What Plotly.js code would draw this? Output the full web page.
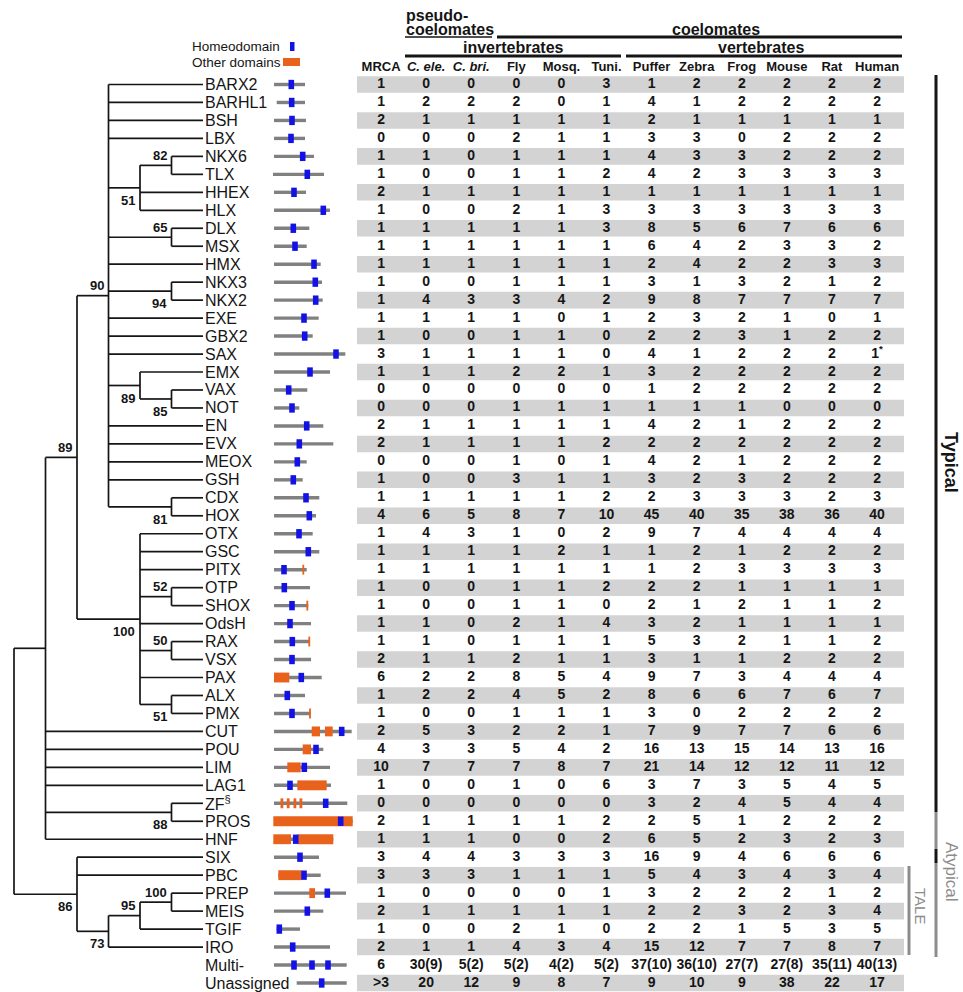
<!DOCTYPE html>
<html><head><meta charset="utf-8">
<script src="https://cdn.plot.ly/plotly-3.0.1.min.js"></script>
<style>html,body{margin:0;padding:0;background:#fff}</style>
</head><body>
<div id="chart" style="width:963px;height:992px"></div>
<script>
// ---------------- DATA ----------------
const rows = ["BARX2","BARHL1","BSH","LBX","NKX6","TLX","HHEX","HLX","DLX","MSX","HMX","NKX3","NKX2","EXE","GBX2","SAX","EMX","VAX","NOT","EN","EVX","MEOX","GSH","CDX","HOX","OTX","GSC","PITX","OTP","SHOX","OdsH","RAX","VSX","PAX","ALX","PMX","CUT","POU","LIM","LAG1","ZF","PROS","HNF","SIX","PBC","PREP","MEIS","TGIF","IRO","Multi-","Unassigned"];
const rowLabels = rows.map(r => r === "ZF" ? "ZF<sup>§</sup>" : r);

const species = ["MRCA","C. ele.","C. bri.","Fly","Mosq.","Tuni.","Puffer","Zebra","Frog","Mouse","Rat","Human"];
const speciesLabels = ["MRCA","<i>C. ele.</i>","<i>C. bri.</i>","Fly","Mosq.","Tuni.","Puffer","Zebra","Frog","Mouse","Rat","Human"];

const mrca   = ["1","1","2","0","1","1","2","1","1","1","1","1","1","1","1","3","1","0","0","2","2","0","1","1","4","1","1","1","1","1","1","1","2","6","1","1","2","4","10","1","0","2","1","3","3","1","2","1","2","6",">3"];
const cEle   = ["0","2","1","0","1","0","1","0","1","1","1","0","4","1","0","1","1","0","0","1","1","0","0","1","6","4","1","1","0","0","1","1","1","2","2","0","5","3","7","0","0","1","1","4","3","0","1","0","1","30(9)","20"];
const cBri   = ["0","2","1","0","0","0","1","0","1","1","1","0","3","1","0","1","1","0","0","1","1","0","0","1","5","3","1","1","0","0","0","0","1","2","2","0","3","3","7","0","0","1","1","4","3","0","1","0","1","5(2)","12"];
const fly    = ["0","2","1","2","1","1","1","2","1","1","1","1","3","1","1","1","2","0","1","1","1","1","3","1","8","1","1","1","1","1","2","1","2","8","4","1","2","5","7","1","0","1","0","3","1","0","1","2","4","5(2)","9"];
const mosq   = ["0","0","1","1","1","1","1","1","1","1","1","1","4","0","1","1","2","0","1","1","1","0","1","1","7","0","2","1","1","1","1","1","1","5","5","1","2","4","8","0","0","1","0","3","1","0","1","1","3","4(2)","8"];
const tuni   = ["3","1","1","1","1","2","1","3","3","1","1","1","2","1","0","0","1","0","1","1","2","1","1","2","10","2","1","1","2","0","4","1","1","4","2","1","1","2","7","6","0","2","2","3","1","1","1","0","4","5(2)","7"];
const puffer = ["1","4","2","3","4","4","1","3","8","6","2","3","9","2","2","4","3","1","1","4","2","4","3","2","45","9","1","1","2","2","3","5","3","9","8","3","7","16","21","3","3","2","6","16","5","3","2","2","15","37(10)","9"];
const zebra  = ["2","1","1","3","3","2","1","3","5","4","4","1","8","3","2","1","2","2","1","2","2","2","2","3","40","7","2","2","2","1","2","3","1","7","6","0","9","13","14","7","2","5","5","9","4","2","2","2","12","36(10)","10"];
const frog   = ["2","2","1","0","3","3","1","3","6","2","2","3","7","2","3","2","2","2","1","1","2","1","3","3","35","4","1","3","1","2","1","2","1","3","6","2","7","15","12","3","4","1","2","4","3","2","3","1","7","27(7)","9"];
const mouse  = ["2","2","1","2","2","3","1","3","7","3","2","2","7","1","1","2","2","2","0","2","2","2","2","3","38","4","2","3","1","1","1","1","2","4","7","2","7","14","12","5","5","2","3","6","4","2","2","5","7","27(8)","38"];
const rat    = ["2","2","1","2","2","3","1","3","6","3","3","1","7","0","2","2","2","2","0","2","2","2","2","2","36","4","2","3","1","1","1","1","2","4","6","2","6","13","11","4","4","2","2","6","3","1","3","3","8","35(11)","22"];
const human  = ["2","2","1","2","2","3","1","3","6","2","3","2","7","1","2","1<sup>*</sup>","2","2","0","2","2","2","2","3","40","4","2","3","1","2","1","2","2","4","7","2","6","16","12","5","4","2","3","6","4","2","4","5","7","40(13)","17"];
const counts = [mrca,cEle,cBri,fly,mosq,tuni,puffer,zebra,frog,mouse,rat,human];

// phylogeny: lv = depth column of the node, bs = bootstrap support, pos = label above (a) / below (b)
const tree = {lv:0, c:[
  {lv:1, c:[
    {lv:2, bs:"89", pos:"a", c:[
      {lv:3, bs:"90", pos:"a", c:["BARX2","BARHL1","BSH","LBX",
        {lv:4, bs:"51", pos:"b", c:[{lv:5, bs:"82", pos:"a", c:["NKX6","TLX"]},"HHEX","HLX"]},
        {lv:5, bs:"65", pos:"a", c:["DLX","MSX"]},
        "HMX",
        {lv:5, bs:"94", pos:"b", c:["NKX3","NKX2"]},
        "EXE","GBX2","SAX",
        {lv:4, bs:"89", pos:"b", c:["EMX",{lv:5, bs:"85", pos:"b", c:["VAX","NOT"]}]},
        "EN","EVX","MEOX","GSH",
        {lv:5, bs:"81", pos:"b", c:["CDX","HOX"]}]},
      {lv:4, bs:"100", pos:"b", c:["OTX","GSC","PITX",
        {lv:5, bs:"52", pos:"a", c:["OTP","SHOX"]},
        "OdsH",
        {lv:5, bs:"50", pos:"a", c:["RAX","VSX"]},
        "PAX",
        {lv:5, bs:"51", pos:"b", c:["ALX","PMX"]}]}
    ]},
    "CUT","POU","LIM","LAG1",
    {lv:5, bs:"88", pos:"b", c:["ZF","PROS"]},
    "HNF"]},
  {lv:2, bs:"86", pos:"b", c:["SIX","PBC",
    {lv:3, bs:"73", pos:"b", c:[
      {lv:4, bs:"95", pos:"a", c:[{lv:5, bs:"100", pos:"a", c:["PREP","MEIS"]},"TGIF"]},
      "IRO"]}]}
]};
const leafLevel = 6;

// protein domain architecture (relative units): p = protein extent, hd = homeodomain centres,
// od = other domains, tk = short other-domain motifs
const domains = [
  {p:[0,31],hd:[17.3]},{p:[2.7,31],hd:[17.7]},{p:[0,32],hd:[18]},{p:[0,31],hd:[17]},
  {p:[0,40],hd:[28.7]},{p:[-1,50],hd:[33.3]},{p:[0,32],hd:[20]},{p:[0,56],hd:[49.3]},
  {p:[0,35.3],hd:[19.3]},{p:[0,32.7],hd:[21]},{p:[0,46.7],hd:[40]},{p:[0,48],hd:[41.3]},
  {p:[0,48.7],hd:[41.7]},{p:[0,44.7],hd:[30]},{p:[0,38.7],hd:[30.7]},{p:[0,71.3],hd:[62]},
  {p:[0,56],hd:[36]},{p:[0,33.3],hd:[14.7]},{p:[0,25.3],hd:[18]},{p:[0,49.3],hd:[32.7]},
  {p:[0,59.3],hd:[25.3]},{p:[0,32.7],hd:[23.3]},{p:[0,28.7],hd:[19.3]},{p:[0,45.3],hd:[32]},
  {p:[0,42],hd:[35.3]},{p:[0,38.7],hd:[25]},{p:[0,45.3],hd:[34.3]},{p:[0,32.7],hd:[10],tk:[29.3]},
  {p:[0,36],hd:[10.3]},{p:[0,34.3],hd:[18],tk:[33.3]},{p:[0,37],hd:[16]},{p:[0,36],hd:[18.3],tk:[35.3]},
  {p:[0,37],hd:[18]},{p:[0,47.7],hd:[27.3],od:[[0,15.3]]},{p:[0,31],hd:[13.3]},{p:[0,36.7],hd:[18],tk:[36]},
  {p:[0,77.7],hd:[67.7],od:[[37.7,46],[51,58.7]]},{p:[0,49.3],hd:[42],od:[[28.7,37]]},
  {p:[0,56],hd:[30.3],od:[[13.3,26.7]]},{p:[0,57],hd:[16],od:[[23.3,52.7]]},
  {p:[0,73.3],hd:[51.7],od:[[6.5,9.3],[12.8,15.6],[19.5,22.3],[25.5,28.3]]},
  {p:[0,78.7],hd:[66.7],od:[[-0.7,78.7]]},{p:[0,59.3],hd:[21.7],od:[[-0.7,17],[23.5,59.3]]},
  {p:[0,45],hd:[26]},{p:[4.3,46.7],hd:[30],od:[[4.3,27.7]]},{p:[0,72],hd:[53.3],od:[[35.3,41]]},
  {p:[0,49.3],hd:[33.3]},{p:[2.7,26],hd:[5.3]},{p:[0,56],hd:[18.7]},
  {p:[0,72.7],hd:[20,38,54]},{p:[22.7,72.7],hd:[47.7]}
];

// ---------------- BUILD ----------------
const FONT = "Arial, 'Liberation Sans', Helvetica, sans-serif";
const INK = "#151515";
const px = v => v / 963, py = v => 1 - v / 992;

// tree geometry from structure
const lx = [], ly = [], ann = [];
function walk(n){
  if (typeof n === "string") return {x: leafLevel, y: rows.indexOf(n)};
  const kids = n.c.map(walk);
  const y0 = kids[0].y, y1 = kids[kids.length-1].y;
  lx.push(n.lv, n.lv, null); ly.push(y0, y1, null);
  kids.forEach(k => { lx.push(n.lv, k.x, null); ly.push(k.y, k.y, null); });
  const y = (y0 + y1) / 2;
  if (n.bs) ann.push({x: n.lv, y: y, xref: "x", yref: "y", text: "<b>" + n.bs + "</b>",
    showarrow: false, xanchor: "right", yanchor: "middle", xshift: -3,
    yshift: n.pos === "a" ? 10 : -12.5, font: {family: FONT, size: 13, color: INK}});
  return {x: n.lv, y: y};
}
walk(tree);

// leaf / row labels
rowLabels.forEach((t, i) => ann.push({x: leafLevel, y: i, xref: "x", yref: "y", text: t,
  showarrow: false, xanchor: "left", yanchor: "middle", xshift: 0,
  font: {family: FONT, size: 16, color: INK}}));

const traces = [];
traces.push({type: "scatter", mode: "lines", x: lx, y: ly, xaxis: "x", yaxis: "y",
  line: {color: INK, width: 1.7}, hoverinfo: "skip", showlegend: false});

// domain bars
function barTrace(base, len, ys, w, color){
  return {type: "bar", orientation: "h", base: base, x: len, y: ys, width: w,
    xaxis: "x2", yaxis: "y", marker: {color: color, line: {width: 0}},
    hoverinfo: "skip", showlegend: false};
}
const gB=[],gL=[],gY=[], oB=[],oL=[],oY=[], tB=[],tL=[],tY=[], hB=[],hL=[],hY=[];
domains.forEach((d, i) => {
  gB.push(d.p[0]); gL.push(d.p[1]-d.p[0]); gY.push(i);
  (d.od||[]).forEach(o => { oB.push(o[0]); oL.push(o[1]-o[0]); oY.push(i); });
  (d.tk||[]).forEach(t => { tB.push(t-0.9); tL.push(1.8); tY.push(i); });
  d.hd.forEach(h => { hB.push(h-2.8); hL.push(5.6); hY.push(i); });
});
traces.push(barTrace(gB, gL, gY, 0.19, "#808080"));
traces.push(barTrace(oB, oL, oY, 0.55, "#e8621c"));
traces.push(barTrace(tB, tL, tY, 0.55, "#e8621c"));
traces.push(barTrace(hB, hL, hY, 0.52, "#1212e6"));

// table values
const tx = [], ty = [], tt = [];
counts.forEach((col, j) => col.forEach((v, i) => { tx.push(species[j]); ty.push(i); tt.push("<b>" + v + "</b>"); }));
traces.push({type: "scatter", mode: "text", x: tx, y: ty, text: tt, xaxis: "x3", yaxis: "y",
  textposition: "middle center", textfont: {family: FONT, size: 14, color: INK},
  hoverinfo: "skip", showlegend: false, cliponaxis: false});
// column headers
traces.push({type: "scatter", mode: "text", x: species, y: species.map(() => -0.918),
  text: speciesLabels.map(s => "<b>" + s + "</b>"), xaxis: "x3", yaxis: "y",
  textposition: "middle center", textfont: {family: FONT, size: 13, color: INK},
  hoverinfo: "skip", showlegend: false, cliponaxis: false});

// shapes: grey stripes, header rules, legend, side brackets
const shapes = [];
rows.forEach((r, i) => { if (i % 2 === 0) shapes.push({type: "rect", xref: "paper", yref: "y",
  x0: px(357), x1: px(904), y0: i - 0.46, y1: i + 0.46, fillcolor: "#d3d3d3", line: {width: 0}, layer: "below"}); });
function hline(x0, x1, y, w, c){ shapes.push({type: "line", xref: "paper", yref: "paper",
  x0: px(x0), x1: px(x1), y0: py(y), y1: py(y), line: {color: c || INK, width: w}}); }
function vline(x, y0, y1, w, c){ shapes.push({type: "line", xref: "paper", yref: "paper",
  x0: px(x), x1: px(x), y0: py(y0), y1: py(y1), line: {color: c || INK, width: w}}); }
function rect(x0, x1, y0, y1, c){ shapes.push({type: "rect", xref: "paper", yref: "paper",
  x0: px(x0), x1: px(x1), y0: py(y0), y1: py(y1), fillcolor: c, line: {width: 0}}); }
hline(405, 492, 37, 1.6);
hline(497, 902, 37, 3);
hline(405, 621, 56, 3);
hline(626, 902, 56, 3);
rect(290, 294.5, 42, 51, "#1212e6");
rect(283, 300, 58, 66, "#e8621c");
const GREY = "#8c8c8c";
vline(936, 75, 812, 3);
vline(936, 812, 849, 3, GREY);
vline(936, 849, 863, 3);
vline(936, 863, 957, 3, GREY);
vline(909, 866, 955, 3, GREY);

function note(text, x, y, size, opts){
  ann.push(Object.assign({text: text, x: px(x), y: py(y), xref: "paper", yref: "paper",
    showarrow: false, xanchor: "center", yanchor: "middle",
    font: {family: FONT, size: size, color: INK}}, opts || {}));
}
note("<b>pseudo-</b>", 404, 15, 16, {xanchor: "left"});
note("<b>coelomates</b>", 404, 29.5, 16, {xanchor: "left"});
note("<b>coelomates</b>", 716, 29.5, 16);
note("<b>invertebrates</b>", 513, 47.5, 16);
note("<b>vertebrates</b>", 761, 47.5, 16);
note("Homeodomain", 282, 46, 13.5, {xanchor: "right"});
note("Other domains", 283, 62, 13.5, {xanchor: "right"});
note("<b>Typical</b>", 951, 462, 18, {textangle: 90});
note("Atypical", 952, 872, 17, {textangle: 90, font: {family: FONT, size: 17, color: GREY}});
note("TALE", 921, 906, 15, {textangle: 90, font: {family: FONT, size: 15, color: GREY}});

const hidden = {visible: false, showgrid: false, zeroline: false, fixedrange: true};
const layout = {
  width: 963, height: 992, margin: {l: 0, r: 0, t: 0, b: 0},
  paper_bgcolor: "#fff", plot_bgcolor: "rgba(0,0,0,0)", showlegend: false, barmode: "overlay",
  xaxis: Object.assign({range: [-14/31.5, (963-14)/31.5], domain: [0, 1]}, hidden),
  xaxis2: Object.assign({range: [-274, 689], overlaying: "x"}, hidden),
  xaxis3: Object.assign({type: "category", categoryorder: "array", categoryarray: species,
    range: [-0.5, 11.5], domain: [358.5/963, 899.6/963], anchor: "y"}, hidden),
  yaxis: Object.assign({range: [(992-84.5)/17.97, -84.5/17.97], domain: [0, 1]}, hidden),
  shapes: shapes, annotations: ann
};
Plotly.newPlot("chart", traces, layout, {staticPlot: true, displayModeBar: false});
</script>
</body></html>
